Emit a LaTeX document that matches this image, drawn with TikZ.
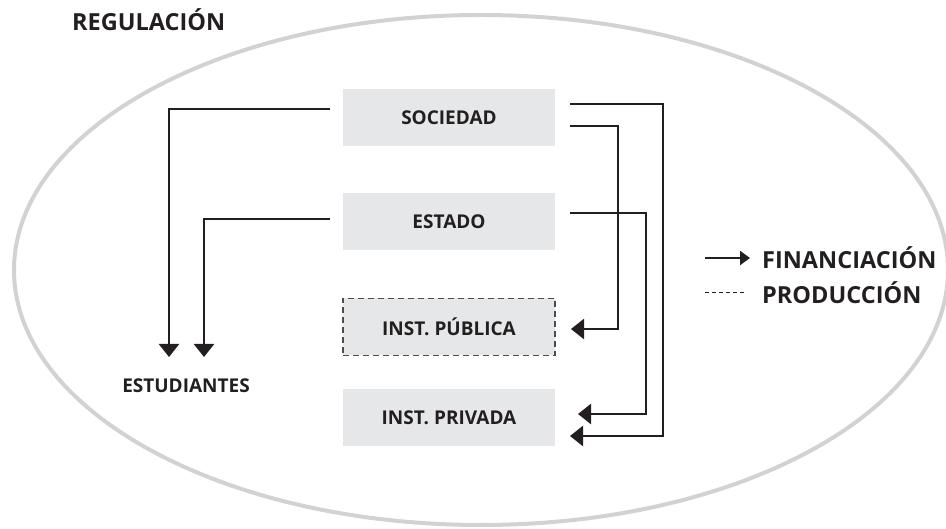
\documentclass[tikz,border=0pt]{standalone}
\usepackage{fontspec}
\setmainfont{Open Sans}
\usetikzlibrary{arrows.meta}
\definecolor{boxgray}{RGB}{230,231,232}
\definecolor{ringgray}{RGB}{209,210,212}
\definecolor{ink}{RGB}{35,31,32}
\begin{document}
\begin{tikzpicture}[x=1pt,y=-1pt,
  box/.style={fill=boxgray,minimum width=212pt,minimum height=57pt,inner sep=0pt,font=\bfseries\fontsize{19}{21}\selectfont,text=ink},
  lbl/.style={font=\bfseries\fontsize{19}{21}\selectfont,text=ink,inner sep=0pt},
  big/.style={font=\bfseries\fontsize{23.5}{26}\selectfont,text=ink,inner sep=0pt},
  conn/.style={draw=ink,line width=2.4pt,-{Triangle[width=20pt,length=13pt]}}]
\useasboundingbox (0,0) rectangle (946,529);
\draw[ringgray,line width=4pt] (481,270) ellipse [x radius=467,y radius=255];
\node[big,anchor=west] (reg) at (72,20) {REGULACIÓN};
\node[box] (soc) at (449,118) {SOCIEDAD};
\node[box] (est) at (449,222) {ESTADO};
\node[box,draw=ink!80,dashed,line width=1.6pt,dash pattern=on 6pt off 4pt] (pub) at (449,327) {INST. PÚBLICA};
\node[box] (priv) at (449,418) {INST. PRIVADA};
\node[lbl] (stu) at (186,386) {ESTUDIANTES};
\coordinate (s1) at (169,357);
\coordinate (s2) at (204,357);
% left connectors
\draw[conn] ([xshift=-13pt]soc.west |- 0,109) -| (s1);
\draw[conn] ([xshift=-13pt]est.west |- 0,219) -| (s2);
% right connectors
\coordinate (p1) at (571,329);
\coordinate (q1) at (578,414);
\coordinate (q2) at (570,436);
\draw[conn] (570,126) -- (618,126) |- (p1);
\draw[conn] (570,213) -- (646,213) |- (q1);
\draw[conn] (570,104) -- (663,104) |- (q2);
% legend
\coordinate (la) at (705,258);
\coordinate (lb) at (750,258);
\draw[draw=ink,line width=2.2pt,-{Triangle[width=14pt,length=10pt]}] (la) -- (lb);
\node[big,anchor=west] (fin) at (762,258) {FINANCIACIÓN};
\coordinate (lc) at (705,293);
\coordinate (ld) at (746,293);
\draw[draw=ink,line width=1pt,dash pattern=on 4pt off 3pt] (lc) -- (ld);
\node[big,anchor=west] (prod) at (762,293) {PRODUCCIÓN};
\end{tikzpicture}
\end{document}
